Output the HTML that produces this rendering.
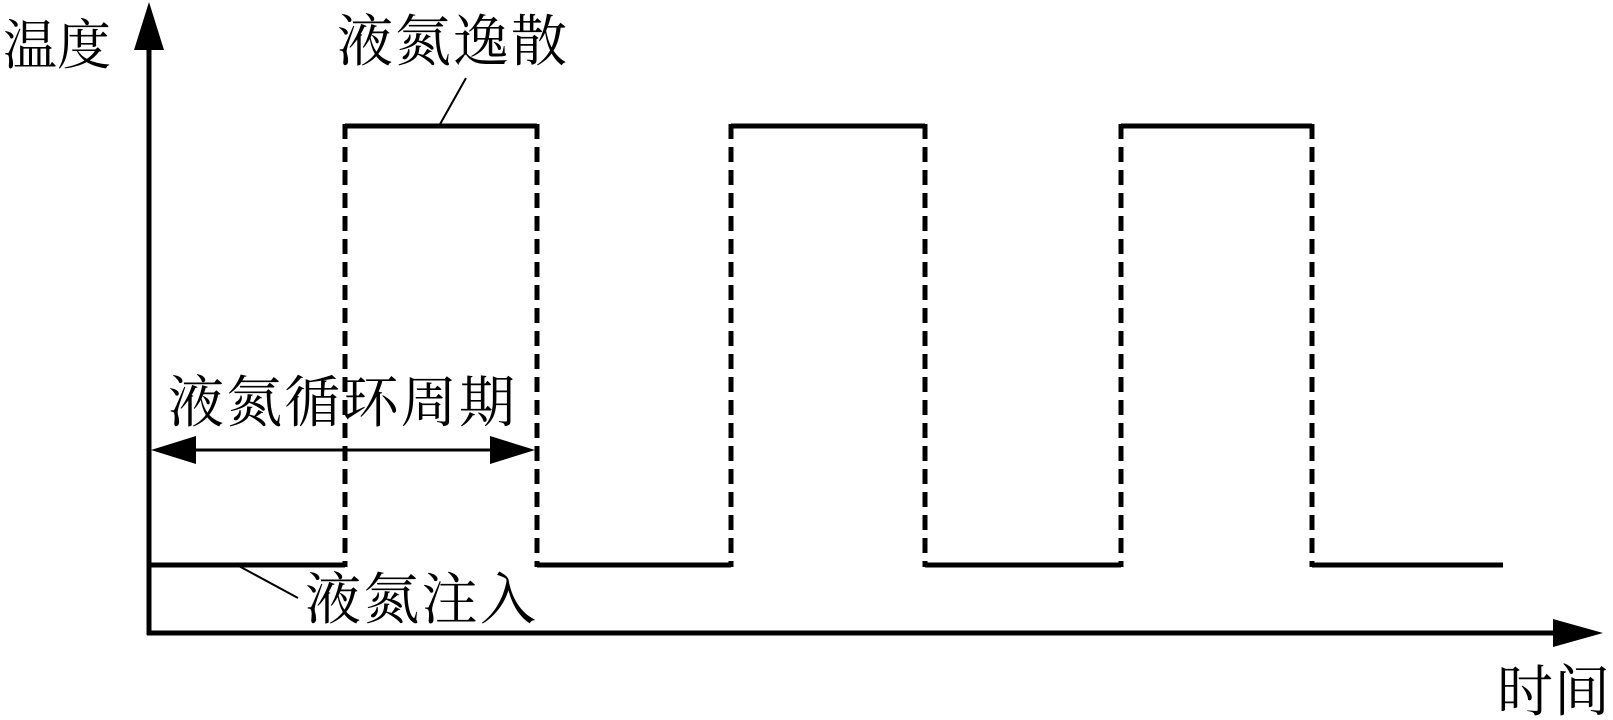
<!DOCTYPE html>
<html><head><meta charset="utf-8"><style>html,body{margin:0;padding:0;background:#fff;}svg{display:block}</style></head>
<body>
<svg width="1613" height="720" viewBox="0 0 1613 720" xmlns="http://www.w3.org/2000/svg">
<g stroke="#000" fill="none">
<line x1="149" y1="40" x2="149" y2="635" stroke-width="5"/>
<line x1="147" y1="633" x2="1560" y2="633" stroke-width="5"/>
<path d="M149 565 H345 M345 126 H537 M537 565 H731 M731 126 H925 M925 565 H1121 M1121 126 H1312 M1312 565 H1503" stroke-width="5"/>
<g stroke-width="5" stroke-dasharray="15 8">
<line x1="345" y1="124" x2="345" y2="567"/>
<line x1="537" y1="124" x2="537" y2="567"/>
<line x1="731" y1="124" x2="731" y2="567"/>
<line x1="925" y1="124" x2="925" y2="567"/>
<line x1="1121" y1="124" x2="1121" y2="567"/>
<line x1="1312" y1="124" x2="1312" y2="567"/>
</g>
<line x1="190" y1="450" x2="500" y2="450" stroke-width="3"/>
<line x1="439" y1="126" x2="466" y2="78" stroke-width="2"/>
<line x1="237" y1="565" x2="298" y2="598" stroke-width="2"/>
</g>
<g fill="#000">
<polygon points="149,2 134,50 164,50"/>
<polygon points="1603,633 1553,619 1553,647"/>
<polygon points="151,450 196,436 196,464"/>
<polygon points="535,450 490,436 490,464"/>
</g>
<g font-family="'Liberation Serif','Noto Serif CJK SC',serif" font-size="56" fill="#000">
<text x="3" y="64" font-size="54">温度</text>
<text x="337" y="61" textLength="230">液氮逸散</text>
<text x="168" y="422" textLength="347">液氮循环周期</text>
<text x="305" y="619" textLength="231">液氮注入</text>
<text x="1497" y="711" textLength="113">时间</text>
</g>
</svg>
</body></html>
